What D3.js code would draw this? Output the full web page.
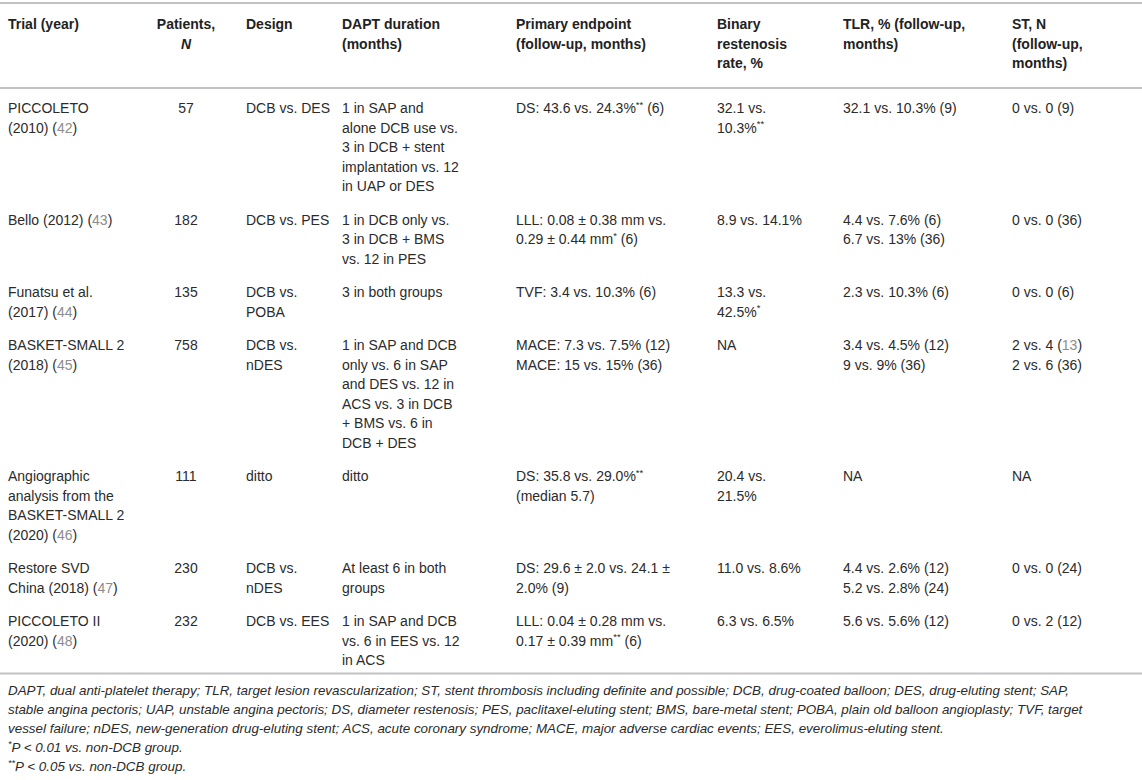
<!DOCTYPE html>
<html>
<head>
<meta charset="utf-8">
<script src="https://cdn.jsdelivr.net/npm/d3@7/dist/d3.min.js"></script>
<style>
  html, body { margin: 0; padding: 0; background: #ffffff; }
  svg { display: block; }
  text { font-family: "Liberation Sans", Arial, Helvetica, sans-serif; }
</style>
</head>
<body>
<svg id="chart" width="1142" height="780"></svg>
<script>
// ---------------- DATA ----------------
// markup: {x} = grey reference number, ^{x} = superscript, _x_ = italic
const columns = ["trial", "patients", "design", "dapt", "primary", "binary", "tlr", "st"];

const headerLabels = [
  ["Trial (year)"],
  ["Patients,", "_N_"],
  ["Design"],
  ["DAPT duration", "(months)"],
  ["Primary endpoint", "(follow-up, months)"],
  ["Binary", "restenosis", "rate, %"],
  ["TLR, % (follow-up,", "months)"],
  ["ST, N", "(follow-up,", "months)"]
];

const trials = [
  ["PICCOLETO", "(2010) ({42})"],
  ["Bello (2012) ({43})"],
  ["Funatsu et al.", "(2017) ({44})"],
  ["BASKET-SMALL 2", "(2018) ({45})"],
  ["Angiographic", "analysis from the", "BASKET-SMALL 2", "(2020) ({46})"],
  ["Restore SVD", "China (2018) ({47})"],
  ["PICCOLETO II", "(2020) ({48})"]
];

const patients = [57, 182, 135, 758, 111, 230, 232];

const designs = [
  ["DCB vs. DES"],
  ["DCB vs. PES"],
  ["DCB vs.", "POBA"],
  ["DCB vs.", "nDES"],
  ["ditto"],
  ["DCB vs.", "nDES"],
  ["DCB vs. EES"]
];

const daptDurations = [
  ["1 in SAP and", "alone DCB use vs.", "3 in DCB + stent", "implantation vs. 12", "in UAP or DES"],
  ["1 in DCB only vs.", "3 in DCB + BMS", "vs. 12 in PES"],
  ["3 in both groups"],
  ["1 in SAP and DCB", "only vs. 6 in SAP", "and DES vs. 12 in", "ACS vs. 3 in DCB", "+ BMS vs. 6 in", "DCB + DES"],
  ["ditto"],
  ["At least 6 in both", "groups"],
  ["1 in SAP and DCB", "vs. 6 in EES vs. 12", "in ACS"]
];

const primaryEndpoints = [
  ["DS: 43.6 vs. 24.3%^{**} (6)"],
  ["LLL: 0.08 ± 0.38 mm vs.", "0.29 ± 0.44 mm^{*} (6)"],
  ["TVF: 3.4 vs. 10.3% (6)"],
  ["MACE: 7.3 vs. 7.5% (12)", "MACE: 15 vs. 15% (36)"],
  ["DS: 35.8 vs. 29.0%^{**}", "(median 5.7)"],
  ["DS: 29.6 ± 2.0 vs. 24.1 ±", "2.0% (9)"],
  ["LLL: 0.04 ± 0.28 mm vs.", "0.17 ± 0.39 mm^{**} (6)"]
];

const binaryRates = [
  ["32.1 vs.", "10.3%^{**}"],
  ["8.9 vs. 14.1%"],
  ["13.3 vs.", "42.5%^{*}"],
  ["NA"],
  ["20.4 vs.", "21.5%"],
  ["11.0 vs. 8.6%"],
  ["6.3 vs. 6.5%"]
];

const tlrRates = [
  ["32.1 vs. 10.3% (9)"],
  ["4.4 vs. 7.6% (6)", "6.7 vs. 13% (36)"],
  ["2.3 vs. 10.3% (6)"],
  ["3.4 vs. 4.5% (12)", "9 vs. 9% (36)"],
  ["NA"],
  ["4.4 vs. 2.6% (12)", "5.2 vs. 2.8% (24)"],
  ["5.6 vs. 5.6% (12)"]
];

const stCounts = [
  ["0 vs. 0 (9)"],
  ["0 vs. 0 (36)"],
  ["0 vs. 0 (6)"],
  ["2 vs. 4 ({13})", "2 vs. 6 (36)"],
  ["NA"],
  ["0 vs. 0 (24)"],
  ["0 vs. 2 (12)"]
];

const footnotes = [
  "DAPT, dual anti-platelet therapy; TLR, target lesion revascularization; ST, stent thrombosis including definite and possible; DCB, drug-coated balloon; DES, drug-eluting stent; SAP,",
  "stable angina pectoris; UAP, unstable angina pectoris; DS, diameter restenosis; PES, paclitaxel-eluting stent; BMS, bare-metal stent; POBA, plain old balloon angioplasty; TVF, target",
  "vessel failure; nDES, new-generation drug-eluting stent; ACS, acute coronary syndrome; MACE, major adverse cardiac events; EES, everolimus-eluting stent.",
  "^{*}P < 0.01 vs. non-DCB group.",
  "^{**}P < 0.05 vs. non-DCB group."
];

// ---------------- LAYOUT ----------------
const W = 1142;
const lineH = 19.5;
const padTop = 10.5, padBot = 3.5;
const headerTop = 3, headerRuleY = 88;
const baseOff = 14.5;           // baseline offset inside a line box
const fontSize = 14;
const footSize = 13.4;
const textColor = "#2b2b2b";
const refColor = "#8c8c8c";
const ruleColor = "#c2c2c2";

const colX = d3.scaleOrdinal()
  .domain(columns)
  .range([8, 186, 246, 342, 516, 717, 843, 1012]);
const colAnchor = c => (c === "patients" ? "middle" : "start");

const rows = trials.map((t, i) => ({
  trial: t,
  patients: [String(patients[i])],
  design: designs[i],
  dapt: daptDurations[i],
  primary: primaryEndpoints[i],
  binary: binaryRates[i],
  tlr: tlrRates[i],
  st: stCounts[i]
}));
rows.forEach(r => { r.lines = d3.max(columns, c => r[c].length); });

// row tops through a linear scale over cumulative line units
const cumLines = [0, ...d3.cumsum(rows, r => r.lines)];
const yLine = d3.scaleLinear().domain([0, 1]).range([headerRuleY, headerRuleY + lineH]);
rows.forEach((r, i) => {
  r.top = yLine(cumLines[i]) + i * (padTop + padBot);
});
const tableBottom = yLine(cumLines[rows.length]) + rows.length * (padTop + padBot);

const svg = d3.select("#chart");
svg.append("rect").attr("width", W).attr("height", 780).attr("fill", "#fff");

// rich text writer
function writeRich(sel, str, opts) {
  const parts = str.split(/(\{[^}]*\}|\^\{[^}]*\}|_[^_]+_)/).filter(s => s.length);
  let pendingDy = 0;
  parts.forEach(p => {
    let txt = p, fill = null, sup = false, ital = false;
    if (p.startsWith("^{")) { txt = p.slice(2, -1); sup = true; }
    else if (p.startsWith("{")) { txt = p.slice(1, -1); fill = refColor; }
    else if (p.startsWith("_") && p.endsWith("_")) { txt = p.slice(1, -1); ital = true; }
    const ts = sel.append("tspan").text(txt);
    if (sup) {
      ts.attr("font-size", opts.size * 0.68).attr("dy", -opts.size * 0.38);
      pendingDy = opts.size * 0.38;
    } else {
      if (pendingDy) { ts.attr("dy", pendingDy); pendingDy = 0; }
    }
    if (fill) ts.attr("fill", fill);
    if (ital) ts.attr("font-style", "italic");
  });
}

// rules
const rule = (y, w) => svg.append("line")
  .attr("x1", 0).attr("x2", W).attr("y1", y).attr("y2", y)
  .attr("stroke", ruleColor).attr("stroke-width", w);
rule(headerTop, 2.2);
rule(headerRuleY, 2);
rule(tableBottom, 2);

// header
const hdr = svg.append("g");
columns.forEach((c, ci) => {
  headerLabels[ci].forEach((ln, li) => {
    const t = hdr.append("text")
      .attr("x", colX(c))
      .attr("y", 29 + li * lineH)
      .attr("text-anchor", colAnchor(c))
      .attr("font-size", fontSize)
      .attr("font-weight", "bold")
      .attr("fill", "#222");
    writeRich(t, ln, { size: fontSize });
  });
});

// body
const body = svg.append("g");
const rowG = body.selectAll("g.row").data(rows).join("g").attr("class", "row");
rowG.each(function (r) {
  const g = d3.select(this);
  columns.forEach(c => {
    r[c].forEach((ln, li) => {
      const t = g.append("text")
        .attr("x", colX(c))
        .attr("y", r.top + padTop + li * lineH + baseOff)
        .attr("text-anchor", colAnchor(c))
        .attr("font-size", fontSize)
        .attr("fill", textColor);
      writeRich(t, ln, { size: fontSize });
    });
  });
});

// footnotes
const foot = svg.append("g");
footnotes.forEach((ln, i) => {
  const t = foot.append("text")
    .attr("x", 8)
    .attr("y", tableBottom + 21 + i * 19.2)
    .attr("font-size", footSize)
    .attr("font-style", "italic")
    .attr("fill", textColor);
  writeRich(t, ln, { size: footSize });
});
</script>
</body>
</html>
